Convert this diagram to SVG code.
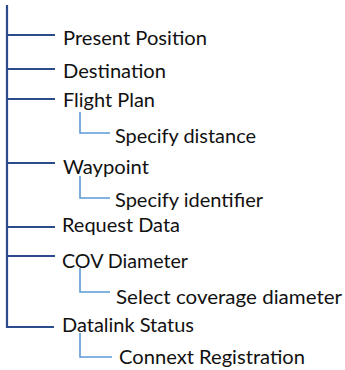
<svg xmlns="http://www.w3.org/2000/svg" width="345" height="370" viewBox="0 0 345 370">
<style>
  .t { font-family: Lato, "Open Sans", "Liberation Sans", sans-serif; font-size: 19.5px; fill: #111; }
  .main { stroke: #2B4C8C; stroke-width: 2.2; fill: none; }
  .sub { stroke: #5B9BD5; stroke-width: 1.6; fill: none; }
</style>
<rect width="345" height="370" fill="#fff"/>
<g id="connectors">
  <path class="main" d="M7,5 V327 H54"/>
  <path class="main" d="M7,35 H55 M7,69 H55 M7,99 H55 M7,163 H55 M7,227 H55 M7,256 H55"/>
  <path class="sub" d="M80,112 V133 H110"/>
  <path class="sub" d="M80,176 V198 H110"/>
  <path class="sub" d="M80,268 V292 H110"/>
  <path class="sub" d="M80,333 V357 H112"/>
</g>
<g id="present-position"><text class="t" x="63" y="45" textLength="144" lengthAdjust="spacingAndGlyphs">Present Position</text></g>
<g id="destination"><text class="t" x="63" y="78" textLength="103" lengthAdjust="spacingAndGlyphs">Destination</text></g>
<g id="flight-plan"><text class="t" x="63" y="107" textLength="92" lengthAdjust="spacingAndGlyphs">Flight Plan</text></g>
<g id="specify-distance"><text class="t" x="115" y="143" textLength="141" lengthAdjust="spacingAndGlyphs">Specify distance</text></g>
<g id="waypoint"><text class="t" x="63" y="174" textLength="86" lengthAdjust="spacingAndGlyphs">Waypoint</text></g>
<g id="specify-identifier"><text class="t" x="115" y="207" textLength="148" lengthAdjust="spacingAndGlyphs">Specify identifier</text></g>
<g id="request-data"><text class="t" x="62" y="232" textLength="118" lengthAdjust="spacingAndGlyphs">Request Data</text></g>
<g id="cov-diameter"><text class="t" x="62" y="268" textLength="126" lengthAdjust="spacingAndGlyphs">COV Diameter</text></g>
<g id="select-coverage-diameter"><text class="t" x="116" y="304" textLength="226" lengthAdjust="spacingAndGlyphs">Select coverage diameter</text></g>
<g id="datalink-status"><text class="t" x="62" y="332" textLength="132" lengthAdjust="spacingAndGlyphs">Datalink Status</text></g>
<g id="connext-registration"><text class="t" x="119" y="364" textLength="186" lengthAdjust="spacingAndGlyphs">Connext Registration</text></g>
</svg>
